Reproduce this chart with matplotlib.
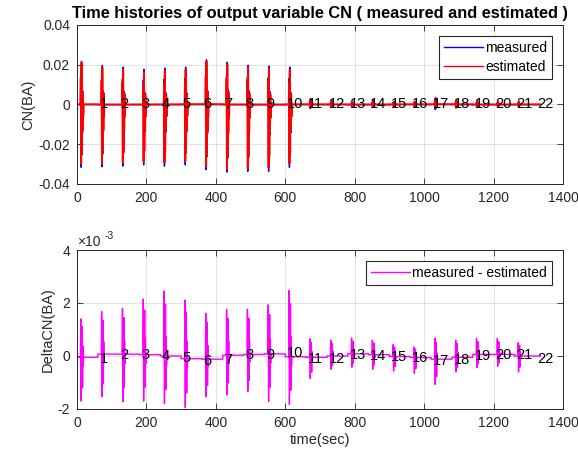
import matplotlib
matplotlib.use("Agg")
import matplotlib.pyplot as plt
import numpy as np
from matplotlib.ticker import FuncFormatter

plt.rcParams['font.family'] = ['Liberation Sans', 'DejaVu Sans']
plt.rcParams['axes.unicode_minus'] = False

# --- data ---
burst_start = [10, 70, 130, 190, 250, 310, 370, 430, 490, 550, 610,
               670, 730, 790, 850, 910, 970, 1030, 1090, 1150, 1210, 1270]
# CN peaks for each manoeuvre (measured)
cn_max = [0.0217, 0.0197, 0.0188, 0.0176, 0.0183, 0.0188, 0.0225, 0.0213, 0.0197, 0.0193, 0.0188,
          0.0030, 0.0022, 0.0018, 0.0020, 0.0015, 0.0015, 0.0035, 0.0025, 0.0020, 0.0018, 0.0015]
cn_min = [-0.0316, -0.0313, -0.0310, -0.0304, -0.0310, -0.0304, -0.0328, -0.0340, -0.0336, -0.0336, -0.0316,
          -0.0020, -0.0015, -0.0012, -0.0015, -0.0012, -0.0012, -0.0025, -0.0018, -0.0015, -0.0012, -0.0012]
# measured - estimated peaks
d_max = [1.45e-3, 1.6e-3, 1.72e-3, 2.1e-3, 2.45e-3, 2.2e-3, 1.73e-3, 1.73e-3, 1.7e-3, 1.85e-3, 2.5e-3,
         0.7e-3, 0.6e-3, 0.6e-3, 0.55e-3, 0.45e-3, 0.4e-3, 0.8e-3, 0.65e-3, 0.6e-3, 0.6e-3, 0.5e-3]
d_min = [-1.65e-3, -1.6e-3, -1.8e-3, -1.75e-3, -1.8e-3, -1.85e-3, -1.42e-3, -1.5e-3, -1.4e-3, -1.8e-3, -1.8e-3,
         -0.8e-3, -0.5e-3, -0.5e-3, -0.55e-3, -0.55e-3, -0.6e-3, -0.95e-3, -0.55e-3, -0.5e-3, -0.45e-3, -0.6e-3]
# offset of the residual between manoeuvres (segments of 60 s)
d_base = [-0.05e-3, 0.07e-3, 0.07e-3, 0.05e-3, 0.0, -0.1e-3, -0.12e-3, 0.03e-3, 0.06e-3, 0.08e-3, -0.03e-3,
          -0.05e-3, 0.0, 0.08e-3, 0.05e-3, -0.02e-3, -0.06e-3, -0.12e-3, -0.05e-3, 0.06e-3, 0.06e-3, 0.0]
seg_start = [0, 60, 120, 180, 240, 300, 360, 420, 480, 540, 600,
             660, 720, 780, 840, 900, 960, 1020, 1080, 1140, 1200, 1260]
t_end = 1335
# burst waveform samples (s after start, normalised)
shape_t = [0, 1, 2, 3, 4, 5, 6, 7, 8, 9]
shape_cn = [0, 0.7, -1.0, 1.0, -0.8, 0.35, -0.45, 0.3, -0.2, 0]
shape_d = [0, 1.0, -1.0, 0.55, -0.5, 0.8, -0.7, 0.3, -0.2, 0]
label_x = [65 + 60 * k for k in range(22)]
label_y_top = [0.0] * 22
label_y_bot = [-0.1e-3, 0.05e-3, 0.05e-3, 0.0, -0.08e-3, -0.18e-3, -0.15e-3, 0.05e-3, 0.05e-3, 0.1e-3, -0.1e-3,
               -0.1e-3, 0.05e-3, 0.0, -0.05e-3, -0.08e-3, -0.2e-3, -0.15e-3, 0.0, 0.05e-3, 0.02e-3, -0.1e-3]

# --- build series ---
t, cn, d = [], [], []
for k in range(22):
    base = d_base[k]
    t += [seg_start[k], burst_start[k]]
    cn += [0.0, 0.0]
    d += [base, base]
    for st, sc, sd in zip(shape_t, shape_cn, shape_d):
        t.append(burst_start[k] + st)
        cn.append(sc * (cn_max[k] if sc > 0 else -cn_min[k]))
        d.append(base + sd * (d_max[k] if sd > 0 else -d_min[k]))
    nxt = seg_start[k + 1] if k < 21 else t_end
    t.append(nxt - 0.01)
    cn.append(0.0)
    d.append(base)
t = np.array(t)
measured = np.array(cn)
delta = np.array(d)
estimated = measured - delta

fig = plt.figure(figsize=(5.78, 4.61), dpi=100)
ax1 = fig.add_axes([0.1332, 0.6009, 0.8408, 0.3449])
ax2 = fig.add_axes([0.1332, 0.1128, 0.8408, 0.3449])

tick_col = '#262626'
for ax in (ax1, ax2):
    ax.set_xlim(0, 1400)
    ax.set_xticks(np.arange(0, 1401, 200))
    ax.grid(True, color='#262626', alpha=0.15, linewidth=0.6)
    ax.tick_params(direction='in', top=True, right=True, labelsize=10,
                   colors=tick_col, length=4, width=0.6, pad=5)
    for sp in ax.spines.values():
        sp.set_color(tick_col)
        sp.set_linewidth(0.7)
    ax.set_axisbelow(True)

ax1.plot(t, measured, color='blue', lw=1.0, label='measured')
ax1.plot(t, estimated, color='red', lw=1.4, label='estimated')
ax1.set_ylim(-0.04, 0.04)
ax1.set_yticks([-0.04, -0.02, 0, 0.02, 0.04])
ax1.set_yticklabels(['-0.04', '-0.02', '0', '0.02', '0.04'])
ax1.set_ylabel('CN(BA)', fontsize=10.5, color=tick_col, labelpad=2)
ax1.set_title('Time histories of output variable CN ( measured and estimated )',
              fontsize=11.8, fontweight='bold', pad=5)
for k in range(22):
    ax1.text(label_x[k], label_y_top[k], str(k + 1), fontsize=10.5, va='center', ha='left')
leg1 = ax1.legend(loc='upper right', fontsize=10, fancybox=False, edgecolor='#262626',
                  framealpha=1, handlelength=2.8, handletextpad=0.15, borderpad=0.35,
                  labelspacing=0.35, borderaxespad=0.8)
leg1.get_frame().set_linewidth(0.8)
for ln in leg1.get_lines():
    ln.set_linewidth(1.0)

ax2.plot(t, delta, color='magenta', lw=1.0, label='measured - estimated')
ax2.set_ylim(-2e-3, 4e-3)
ax2.set_yticks([-2e-3, 0, 2e-3, 4e-3])
ax2.yaxis.set_major_formatter(FuncFormatter(lambda v, p: '%g' % round(v * 1e3, 6)))
ax2.set_ylabel('DeltaCN(BA)', fontsize=10.5, color=tick_col, labelpad=2)
ax2.set_xlabel('time(sec)', fontsize=10.5, color=tick_col, labelpad=2)
ax2.text(0.0, 1.005, '\u00d710', transform=ax2.transAxes, fontsize=10,
         color=tick_col, va='bottom', ha='left')
ax2.annotate('-3', xy=(0.0, 1.005), xycoords='axes fraction', xytext=(20, 6),
             textcoords='offset points', fontsize=7.5, color=tick_col, va='bottom', ha='left')
for k in range(22):
    ax2.text(label_x[k], label_y_bot[k], str(k + 1), fontsize=10.5, va='center', ha='left')
leg2 = ax2.legend(loc='upper right', fontsize=10, fancybox=False, edgecolor='#262626',
                  framealpha=1, handlelength=2.8, handletextpad=0.15, borderpad=0.35,
                  borderaxespad=0.8)
leg2.get_frame().set_linewidth(0.8)

fig.savefig('out.png', dpi=100)
